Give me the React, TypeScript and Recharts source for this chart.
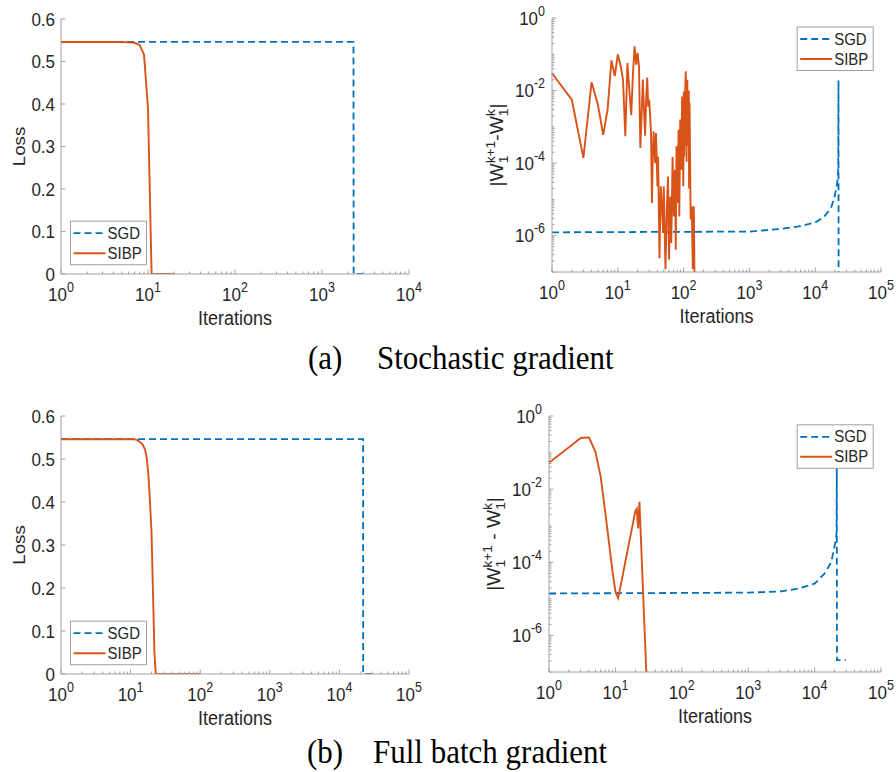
import React from "react";
import { LineChart, Line, XAxis, YAxis } from "recharts";

// ─── Data ─────────────────────────────────────────────────────────────────────

// (a) stochastic gradient, loss
const sgdIterA = [1, 2300, 2310, 2950];
const sgdLossA = [0.546, 0.546, 0, 0];
const sibpIterA = [1, 2, 3, 4, 5, 6, 7, 8, 9, 10, 11, 12, 13, 14, 15, 16, 17, 18, 19, 20];
const sibpLossA = [0.546, 0.546, 0.546, 0.546, 0.546, 0.545, 0.544, 0.539, 0.516, 0.39, 0, 0, 0, 0, 0, 0, 0, 0, 0, 0];

// (a) stochastic gradient, |W1^{k+1} - W1^k|
const sgdIterC = [1, 1000, 3160, 5620, 10000, 13800, 17400, 19500, 21500, 22400, 22600, 22700];
const sgdDiffC = [1.24e-6, 1.3e-6, 1.55e-6, 1.8e-6, 2.3e-6, 3.4e-6, 5.8e-6, 1.1e-5, 2.6e-5, 6.6e-5, 1.9e-2, 1e-9];
const sibpIterC = [
  1, 2, 3, 4, 5, 6, 7, 8, 9, 10,
  11, 12, 13, 14, 15, 16, 17, 18, 19, 20,
  21, 22, 23, 24, 25, 26, 27, 28, 29, 30,
  31, 32, 33, 34, 35, 36, 37, 38, 39, 40,
  41, 43, 45, 47, 49, 50, 53, 56, 58, 60,
  63, 65, 68, 71, 74, 76, 78, 81, 84, 86,
  89, 92, 95, 99, 100, 101, 102, 103, 104, 106,
  108, 109, 111, 112, 114, 116, 118, 120, 121, 123,
  125, 128, 133, 138, 143, 146, 148,
];
const sibpDiffC = [
  0.03, 5.6e-3, 1.4e-4, 1.7e-2, 4e-3, 6e-4, 3e-3, 0.068, 0.025, 0.1,
  0.05, 0.02, 5.5e-4, 0.057, 0.01, 2.1e-3, 0.03, 0.165, 0.052, 0.11,
  0.045, 2.6e-4, 2e-3, 0.02, 3e-3, 5.7e-4, 6e-3, 0.023, 3.6e-3, 5.6e-3,
  2e-3, 6.8e-4, 8e-6, 1.5e-4, 7.4e-4, 2e-4, 1e-4, 6.8e-4, 1.5e-4, 2.3e-5,
  1.5e-4, 2.4e-7, 2.3e-5, 6.5e-6, 1.2e-6, 2.3e-5, 1.2e-7, 8e-6, 4.3e-5, 2.2e-7,
  1.2e-5, 6.3e-7, 1.5e-4, 3.4e-6, 6.6e-5, 4.1e-7, 2.9e-4, 8e-6, 8.3e-4, 3.4e-6,
  1.6e-3, 6.6e-5, 6.9e-3, 2.3e-5, 4e-3, 9.5e-3, 1.5e-4, 5e-3, 3e-4, 0.012,
  0.034, 2e-3, 1.1e-4, 8e-3, 0.02, 3e-4, 8.3e-4, 1e-2, 2e-5, 4.6e-3,
  3e-4, 2.8e-6, 6.5e-6, 1.2e-7, 6.5e-6, 1.2e-7, 1e-9,
];

// (b) full batch gradient, loss
const sgdIterB = [1, 21900, 21950, 29000];
const sgdLossB = [0.546, 0.546, 0, 0];
const sibpIterB = [1, 2, 3, 4, 5, 6, 7, 8, 9, 10, 11, 12, 13, 14, 15, 16, 17, 18, 19, 20, 21, 22, 23, 30, 50, 100];
const sibpLossB = [
  0.546, 0.546, 0.546, 0.546, 0.546, 0.546, 0.546, 0.546, 0.546, 0.546, 0.546,
  0.545, 0.542, 0.538, 0.533, 0.523, 0.505, 0.465, 0.4, 0.327, 0.185, 0.05,
  0, 0, 0, 0,
];

// (b) full batch gradient, |W1^{k+1} - W1^k|
const sgdIterD = [1, 1000, 3160, 5620, 10000, 14100, 17800, 20400, 21400, 21600, 21700, 29500];
const sgdDiffD = [1.4e-5, 1.48e-5, 1.6e-5, 1.9e-5, 2.6e-5, 4.9e-5, 1.0e-4, 3.3e-4, 6e-4, 0.045, 2.1e-7, 2.1e-7];
const sibpIterD = [1, 2, 3, 4, 5, 6, 7, 8, 9, 10, 11, 12, 13, 14, 15, 16, 17, 18, 19, 20, 21, 22, 23, 24, 25, 26, 27, 28, 29, 30];
const sibpDiffD = [
  0.053, 0.14, 0.25, 0.26, 0.105, 0.022, 2.5e-3, 3.5e-4, 6e-5, 1.6e-5,
  1.05e-5, 2.3e-5, 4.8e-5, 9.6e-5, 1.8e-4, 3.3e-4, 5.7e-4, 9.6e-4, 1.6e-3, 2.5e-3,
  2.9e-3, 8.4e-4, 4.5e-3, 6.7e-4, 1.07e-4, 1.8e-5, 3.2e-6, 6.7e-7, 1.4e-7, 1e-9,
];

// ticks and labels
const lossTicks = [0, 0.1, 0.2, 0.3, 0.4, 0.5, 0.6];
const iterDecades4 = [1, 10, 100, 1000, 10000];
const iterDecades5 = [1, 10, 100, 1000, 10000, 100000];
const diffTicks = [1e-6, 1e-4, 1e-2, 1];
const seriesNames = ["SGD", "SIBP"];
const captionTags = ["(a)", "(b)"];
const captionTexts = ["Stochastic gradient", "Full batch gradient"];

// ─── Styling ──────────────────────────────────────────────────────────────────

const BLUE = "#0072BD";
const ORANGE = "#D95319";
const AXIS = "#a0a0a0";
const INK = "#262626";
const SANS = "'Liberation Sans', Arial, Helvetica, sans-serif";
const SERIF = "'Liberation Serif', 'Times New Roman', Times, serif";
const SY = 1.1; // text in the reference is a bit taller than wide
const PL = 90;
const PT = 20;
const PR = 14;
const PB = 62;
const MAJOR = 4.5;
const MINOR = 2.5;
const DASH = "7 4";

type Pt = { x: number; y: number };
const zip = (xs: number[], ys: number[]): Pt[] => xs.map((x, i) => ({ x, y: ys[i] }));

const isIn = (v: number, list: number[]) => list.some((m) => Math.abs(m - v) <= Math.abs(m) * 1e-9);
const expOf = (v: number) => String(Math.round(Math.log10(v)));

// minor tick positions k*10^e on a log axis
function logMinors(lo: number, hi: number, majors: number[], kFrom: number) {
  const out: number[] = [];
  for (let e = Math.round(Math.log10(lo)); e < Math.round(Math.log10(hi)); e++) {
    for (let k = kFrom; k <= 9; k++) {
      const v = k * Math.pow(10, e);
      if (!isIn(v, majors)) out.push(v);
    }
  }
  return out;
}

function Pow({ x, y, exp, anchor }: { x: number; y: number; exp: string; anchor: "middle" | "end" }) {
  return (
    <text
      transform={`translate(${x} ${y}) scale(1 ${SY})`}
      textAnchor={anchor}
      fontFamily={SANS}
      fontSize={17}
      fill={INK}
    >
      10
      <tspan fontSize={12.5} dy={-8}>
        {exp}
      </tspan>
    </text>
  );
}

// ─── Panel ────────────────────────────────────────────────────────────────────

interface PanelProps {
  left: number;
  top: number;
  w: number;
  h: number;
  xMajors: number[];
  yLog: boolean;
  yMajors: number[];
  yDomain: [number, number];
  yLabel: "loss" | "diff" | "diffSpaced";
  legendAt: [number, number];
  sgd: Pt[];
  sibp: Pt[];
}

function YTitle({ kind, x, y }: { kind: PanelProps["yLabel"]; x: number; y: number }) {
  const tf = `translate(${x} ${y}) rotate(-90) scale(${SY} 1)`;
  if (kind === "loss") {
    return (
      <text transform={tf} textAnchor="middle" fontFamily={SANS} fontSize={17} fill={INK}>
        Loss
      </text>
    );
  }
  const mid = kind === "diffSpaced" ? " - W" : "-W";
  return (
    <text transform={tf} textAnchor="middle" fontFamily={SANS} fontSize={17.5} fill={INK} style={{ whiteSpace: "pre" }}>
      |W
      <tspan fontSize={12.5} dy={5}>1</tspan>
      <tspan fontSize={12.5} dx={-7} dy={-13}>k+1</tspan>
      <tspan dy={8}>{mid}</tspan>
      <tspan fontSize={12.5} dy={5}>1</tspan>
      <tspan fontSize={12.5} dx={-7} dy={-13}>k</tspan>
      <tspan dx={0.7} dy={8}>|</tspan>
    </text>
  );
}

function LegendBox({ x, y }: { x: number; y: number }) {
  return (
    <g transform={`translate(${x} ${y})`}>
      <rect x={0.5} y={0.5} width={76} height={43.5} fill="#fff" stroke={AXIS} />
      <line x1={3.5} x2={35.5} y1={12.5} y2={12.5} stroke={BLUE} strokeWidth={1.8} strokeDasharray={DASH} />
      <line x1={3.5} x2={35.5} y1={32.5} y2={32.5} stroke={ORANGE} strokeWidth={1.9} />
      {seriesNames.map((n, i) => (
        <text
          key={n}
          transform={`translate(37.5 ${18 + i * 20}) scale(1 ${SY})`}
          fontFamily={SANS}
          fontSize={15}
          fill={INK}
        >
          {n}
        </text>
      ))}
    </g>
  );
}

function Panel(props: PanelProps) {
  const { left, top, w, h, xMajors, yLog, yMajors, yDomain, yLabel, legendAt, sgd, sibp } = props;
  const xDomain: [number, number] = [xMajors[0], xMajors[xMajors.length - 1]];
  const xTicks = [...xMajors, ...logMinors(xDomain[0], xDomain[1], xMajors, 2)].sort((a, b) => a - b);
  const yTicks = yLog
    ? [...yMajors, ...logMinors(yDomain[0], yDomain[1], yMajors, 1)].sort((a, b) => a - b)
    : yMajors;
  const W = w + PL + PR;
  const H = h + PT + PB;
  const xr = PL + w;
  const yb = PT + h;

  const xLen = (v: number) => (isIn(v, xMajors) ? MAJOR : MINOR);
  const yLen = (v: number) => (isIn(v, yMajors) ? MAJOR : MINOR);

  const tickBottom = (p: any) => {
    const v = p.payload.value;
    return (
      <g>
        <line x1={p.x} x2={p.x} y1={yb} y2={yb - xLen(v)} stroke={AXIS} />
        {isIn(v, xMajors) && <Pow x={p.x} y={yb + 27} exp={expOf(v)} anchor="middle" />}
      </g>
    );
  };
  const tickTop = (p: any) => (
    <line x1={p.x} x2={p.x} y1={PT} y2={PT + xLen(p.payload.value)} stroke={AXIS} />
  );
  const tickLeft = (p: any) => {
    const v = p.payload.value;
    const major = isIn(v, yMajors);
    return (
      <g>
        <line x1={PL} x2={PL + yLen(v)} y1={p.y} y2={p.y} stroke={AXIS} />
        {major &&
          (yLog ? (
            <Pow x={PL - 7} y={p.y + 6.5} exp={expOf(v)} anchor="end" />
          ) : (
            <text
              transform={`translate(${PL - 6} ${p.y + 6.5}) scale(1 ${SY})`}
              textAnchor="end"
              fontFamily={SANS}
              fontSize={17}
              fill={INK}
            >
              {v === 0 ? "0" : v.toFixed(1)}
            </text>
          ))}
      </g>
    );
  };
  const tickRight = (p: any) => (
    <line x1={xr} x2={xr - yLen(p.payload.value)} y1={p.y} y2={p.y} stroke={AXIS} />
  );

  const yScale = yLog ? "log" : "linear";
  const yTitleX = PL - (yLabel === "loss" ? 36 : 49);

  return (
    <div style={{ position: "absolute", left: left - PL, top: top - PT, width: W, height: H }}>
      <LineChart width={W} height={H} margin={{ top: PT, right: PR, bottom: 0, left: 0 }}>
        <XAxis
          xAxisId="b"
          dataKey="x"
          type="number"
          scale="log"
          domain={xDomain}
          ticks={xTicks}
          interval={0}
          height={PB}
          tickLine={false}
          tickSize={0}
          tick={tickBottom}
          axisLine={{ stroke: AXIS }}
        />
        <XAxis
          xAxisId="t"
          orientation="top"
          dataKey="x"
          type="number"
          scale="log"
          domain={xDomain}
          ticks={xTicks}
          interval={0}
          height={0}
          tickLine={false}
          tickSize={0}
          tick={tickTop}
          axisLine={{ stroke: AXIS }}
        />
        <YAxis
          yAxisId="l"
          type="number"
          scale={yScale}
          domain={yDomain}
          ticks={yTicks}
          interval={0}
          width={PL}
          allowDataOverflow
          tickLine={false}
          tickSize={0}
          tick={tickLeft}
          axisLine={{ stroke: AXIS }}
        />
        <YAxis
          yAxisId="r"
          orientation="right"
          type="number"
          scale={yScale}
          domain={yDomain}
          ticks={yTicks}
          interval={0}
          width={0}
          allowDataOverflow
          tickLine={false}
          tickSize={0}
          tick={tickRight}
          axisLine={{ stroke: AXIS }}
        />
        <Line
          data={sgd}
          dataKey="y"
          xAxisId="b"
          yAxisId="l"
          type="linear"
          stroke={BLUE}
          strokeWidth={1.8}
          strokeDasharray={DASH}
          dot={false}
          activeDot={false}
          isAnimationActive={false}
        />
        <Line
          data={sibp}
          dataKey="y"
          xAxisId="b"
          yAxisId="l"
          type="linear"
          stroke={ORANGE}
          strokeWidth={1.9}
          dot={false}
          activeDot={false}
          isAnimationActive={false}
        />
      </LineChart>
      <svg width={W} height={H} style={{ position: "absolute", left: 0, top: 0, pointerEvents: "none" }}>
        <text
          transform={`translate(${PL + w / 2} ${yb + 51}) scale(1 ${SY})`}
          textAnchor="middle"
          fontFamily={SANS}
          fontSize={18}
          fill={INK}
        >
          Iterations
        </text>
        <YTitle kind={yLabel} x={yTitleX} y={PT + h / 2} />
        <LegendBox x={PL + legendAt[0]} y={PT + legendAt[1]} />
      </svg>
    </div>
  );
}

// ─── App ──────────────────────────────────────────────────────────────────────

export default function App() {
  return (
    <div
      style={{
        position: "absolute",
        left: 0,
        top: 0,
        width: 896,
        height: 772,
        background: "#fff",
        overflow: "hidden",
      }}
    >
      <Panel
        left={61}
        top={19}
        w={348}
        h={255}
        xMajors={iterDecades4}
        yLog={false}
        yMajors={lossTicks}
        yDomain={[0, 0.6]}
        yLabel="loss"
        legendAt={[9, 201.7]}
        sgd={zip(sgdIterA, sgdLossA)}
        sibp={zip(sibpIterA, sibpLossA)}
      />
      <Panel
        left={552}
        top={18}
        w={329}
        h={254}
        xMajors={iterDecades5}
        yLog
        yMajors={diffTicks}
        yDomain={[1e-7, 1]}
        yLabel="diff"
        legendAt={[244.7, 8.5]}
        sgd={zip(sgdIterC, sgdDiffC)}
        sibp={zip(sibpIterC, sibpDiffC)}
      />
      <Panel
        left={61}
        top={416}
        w={348}
        h={258}
        xMajors={iterDecades5}
        yLog={false}
        yMajors={lossTicks}
        yDomain={[0, 0.6]}
        yLabel="loss"
        legendAt={[9, 204.7]}
        sgd={zip(sgdIterB, sgdLossB)}
        sibp={zip(sibpIterB, sibpLossB)}
      />
      <Panel
        left={549}
        top={416}
        w={332}
        h={256}
        xMajors={iterDecades5}
        yLog
        yMajors={diffTicks}
        yDomain={[1e-7, 1]}
        yLabel="diffSpaced"
        legendAt={[247.7, 8.3]}
        sgd={zip(sgdIterD, sgdDiffD)}
        sibp={zip(sibpIterD, sibpDiffD)}
      />
      <svg width={896} height={772} style={{ position: "absolute", left: 0, top: 0, pointerEvents: "none" }}>
        {[369, 763].map((base, i) => (
          <g key={captionTags[i]} fontFamily={SERIF} fontSize={31} fill="#000">
            <text transform={`translate(${i === 0 ? 308 : 307} ${base}) scale(1 ${SY})`}>{captionTags[i]}</text>
            <text transform={`translate(${i === 0 ? 377 : 373} ${base}) scale(1 ${SY})`}>{captionTexts[i]}</text>
          </g>
        ))}
      </svg>
    </div>
  );
}
